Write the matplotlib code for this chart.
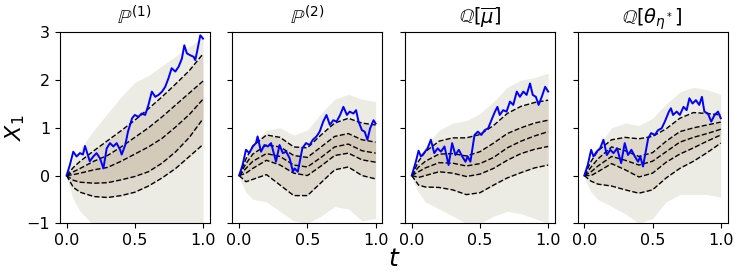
import numpy as np
import matplotlib.pyplot as plt

# grid for quantile lines and haze envelopes
t_q = [0, 0.05, 0.1, 0.2, 0.3, 0.4, 0.5, 0.6, 0.7, 0.8, 0.9, 1.0]

titles = [r'$\mathbb{P}^{(1)}$', r'$\mathbb{P}^{(2)}$',
          r'$\mathbb{Q}[\overline{\mu}]$', r'$\mathbb{Q}[\theta_{\eta^*}]$']

# quantile lines (top -> bottom) per panel
q_p1 = [[0, 0.17, 0.3, 0.52, 0.73, 0.94, 1.16, 1.4, 1.65, 1.92, 2.2, 2.55],
        [0, 0.08, 0.15, 0.3, 0.42, 0.6, 0.8, 1.0, 1.23, 1.48, 1.73, 1.98],
        [0, 0.02, 0.05, 0.12, 0.17, 0.3, 0.45, 0.6, 0.78, 1.02, 1.28, 1.6],
        [0, -0.1, -0.14, -0.16, -0.15, -0.09, -0.02, 0.08, 0.26, 0.5, 0.8, 1.19],
        [0, -0.25, -0.35, -0.44, -0.46, -0.42, -0.35, -0.22, -0.05, 0.15, 0.4, 0.65]]
q_p2 = [[0, 0.35, 0.62, 0.85, 0.8, 0.6, 0.58, 0.85, 1.1, 1.2, 1.1, 1.06],
        [0, 0.25, 0.45, 0.64, 0.6, 0.42, 0.38, 0.6, 0.82, 0.88, 0.75, 0.7],
        [0, 0.15, 0.3, 0.46, 0.4, 0.22, 0.18, 0.38, 0.6, 0.66, 0.52, 0.47],
        [0, 0.05, 0.15, 0.32, 0.22, 0.05, 0.0, 0.2, 0.42, 0.47, 0.33, 0.28],
        [0, -0.13, -0.08, 0.02, -0.2, -0.42, -0.42, -0.15, 0.12, 0.18, 0.0, -0.07]]
q_q1 = [[0, 0.3, 0.5, 0.72, 0.79, 0.79, 0.86, 1.05, 1.3, 1.45, 1.53, 1.58],
        [0, 0.18, 0.3, 0.45, 0.46, 0.41, 0.5, 0.68, 0.88, 1.0, 1.1, 1.16],
        [0, 0.08, 0.16, 0.27, 0.26, 0.2, 0.25, 0.38, 0.58, 0.72, 0.83, 0.92],
        [0, -0.04, 0.0, 0.08, 0.05, -0.02, 0.03, 0.15, 0.32, 0.46, 0.55, 0.61],
        [0, -0.2, -0.24, -0.25, -0.3, -0.4, -0.36, -0.2, -0.05, 0.06, 0.16, 0.22]]
q_q2 = [[0, 0.3, 0.52, 0.75, 0.8, 0.77, 0.82, 0.98, 1.2, 1.32, 1.3, 1.27],
        [0, 0.18, 0.35, 0.6, 0.52, 0.4, 0.48, 0.72, 0.92, 1.0, 1.06, 1.12],
        [0, 0.08, 0.2, 0.4, 0.32, 0.22, 0.3, 0.5, 0.7, 0.8, 0.88, 0.97],
        [0, 0.0, 0.08, 0.25, 0.12, -0.03, 0.05, 0.28, 0.45, 0.58, 0.72, 0.85],
        [0, -0.12, -0.18, -0.22, -0.3, -0.37, -0.3, -0.05, 0.15, 0.3, 0.48, 0.68]]

# envelopes of the sample cloud
hi_env = [[0.05, 0.35, 0.55, 0.95, 1.3, 1.65, 1.95, 2.1, 2.3, 2.5, 2.7, 2.9],
          [0.05, 0.4, 0.65, 0.95, 1.0, 0.85, 0.95, 1.3, 1.6, 1.7, 1.6, 1.55],
          [0.05, 0.4, 0.6, 0.95, 1.1, 1.15, 1.3, 1.55, 1.85, 2.0, 2.05, 2.15],
          [0.05, 0.4, 0.6, 1.0, 1.1, 1.05, 1.2, 1.5, 1.75, 1.85, 1.8, 1.7]]
lo_env = [[-0.05, -0.5, -0.75, -1.05, -1.05, -1.05, -1.05, -1.05, -1.05, -1.05, -1.05, -1.05],
          [-0.05, -0.35, -0.5, -0.55, -0.75, -0.95, -1.0, -0.85, -0.65, -0.7, -0.95, -0.9],
          [-0.05, -0.35, -0.55, -0.7, -0.85, -1.0, -1.0, -0.85, -0.75, -0.8, -0.9, -1.0],
          [-0.05, -0.35, -0.5, -0.65, -0.8, -1.0, -0.9, -0.55, -0.4, -0.4, -0.4, -0.45]]

# highlighted path per panel
t_b1 = [0, 0.024, 0.049, 0.073, 0.098, 0.12, 0.135, 0.17, 0.196, 0.22, 0.245, 0.27,
        0.294, 0.318, 0.343, 0.367, 0.392, 0.404, 0.43, 0.45, 0.48, 0.50, 0.527, 0.55,
        0.576, 0.60, 0.625, 0.65, 0.674, 0.70, 0.723, 0.747, 0.77, 0.797, 0.821, 0.845,
        0.863, 0.882, 0.907, 0.931, 0.943, 0.956, 0.98, 1.0]
v_b1 = [0, 0.22, 0.50, 0.40, 0.47, 0.44, 0.62, 0.30, 0.40, 0.47, 0.36, 0.15,
        0.57, 0.68, 0.61, 0.68, 0.54, 0.44, 0.64, 0.92, 1.20, 1.27, 1.23, 1.30,
        1.27, 1.48, 1.76, 1.65, 1.69, 1.76, 1.86, 2.04, 2.25, 2.18, 2.28, 2.45,
        2.73, 2.56, 2.52, 2.49, 2.42, 2.59, 2.94, 2.87]
t_b2 = [0, 0.025, 0.05, 0.074, 0.10, 0.123, 0.135, 0.16, 0.185, 0.21, 0.234, 0.27,
        0.296, 0.32, 0.345, 0.37, 0.394, 0.406, 0.43, 0.463, 0.49, 0.517, 0.54, 0.567,
        0.59, 0.616, 0.64, 0.665, 0.69, 0.714, 0.74, 0.764, 0.79, 0.81, 0.837, 0.857,
        0.875, 0.9, 0.92, 0.94, 0.96, 0.985, 1.0]
v_b2 = [0, 0.22, 0.54, 0.47, 0.61, 0.68, 0.82, 0.50, 0.64, 0.61, 0.68, 0.29,
        0.64, 0.47, 0.50, 0.36, 0.08, 0.15, 0.08, 0.57, 0.68, 0.64, 0.75, 0.82,
        0.92, 1.13, 1.27, 1.06, 1.16, 1.13, 1.27, 1.44, 1.27, 1.34, 1.30, 1.37,
        1.13, 0.95, 0.92, 0.75, 0.99, 1.16, 1.09]
t_b3 = [0, 0.03, 0.05, 0.067, 0.09, 0.116, 0.14, 0.165, 0.19, 0.214, 0.24, 0.27,
        0.296, 0.32, 0.345, 0.37, 0.394, 0.41, 0.43, 0.46, 0.485, 0.51, 0.534, 0.56,
        0.584, 0.61, 0.628, 0.645, 0.67, 0.695, 0.72, 0.744, 0.77, 0.793, 0.818, 0.842,
        0.867, 0.887, 0.91, 0.93, 0.953, 0.978, 1.0]
v_b3 = [0, 0.29, 0.52, 0.40, 0.47, 0.57, 0.75, 0.47, 0.57, 0.50, 0.61, 0.22,
        0.68, 0.43, 0.54, 0.40, 0.29, 0.40, 0.29, 0.85, 0.92, 0.85, 0.95, 0.99,
        1.16, 1.34, 1.44, 1.27, 1.37, 1.34, 1.55, 1.48, 1.76, 1.65, 1.76, 1.69,
        1.93, 1.69, 1.65, 1.48, 1.65, 1.86, 1.76]
t_b4 = [0, 0.025, 0.05, 0.067, 0.09, 0.116, 0.14, 0.165, 0.19, 0.214, 0.24, 0.27,
        0.296, 0.32, 0.345, 0.37, 0.394, 0.41, 0.43, 0.468, 0.49, 0.517, 0.54, 0.567,
        0.59, 0.62, 0.635, 0.65, 0.677, 0.70, 0.727, 0.75, 0.77, 0.793, 0.818, 0.842,
        0.862, 0.88, 0.906, 0.93, 0.955, 0.98, 1.0]
v_b4 = [0, 0.22, 0.54, 0.40, 0.50, 0.57, 0.75, 0.43, 0.54, 0.47, 0.57, 0.26,
        0.68, 0.43, 0.54, 0.40, 0.29, 0.40, 0.19, 0.78, 0.89, 0.85, 0.95, 0.99,
        1.13, 1.34, 1.41, 1.27, 1.34, 1.27, 1.44, 1.37, 1.62, 1.51, 1.58, 1.48,
        1.65, 1.34, 1.30, 1.13, 1.27, 1.34, 1.20]

quants = [q_p1, q_p2, q_q1, q_q2]
paths = [(t_b1, v_b1), (t_b2, v_b2), (t_b3, v_b3), (t_b4, v_b4)]

plt.rcParams['font.family'] = 'DejaVu Sans'
fig, axes = plt.subplots(1, 4, figsize=(7.47, 2.77), dpi=100, sharey=True)
plt.subplots_adjust(left=0.080, right=0.974, bottom=0.194, top=0.883, wspace=0.15)

for i, ax in enumerate(axes):
    q = quants[i]
    # sample cloud, faded towards its edges
    ax.fill_between(t_q, lo_env[i], hi_env[i], color='#d6d3c4', alpha=0.45, lw=0)
    ax.fill_between(t_q, q[4], q[0], color='#c4b7a0', alpha=0.35, lw=0)
    ax.fill_between(t_q, q[3], q[1], color='#b3a386', alpha=0.25, lw=0)
    for line in q:
        ax.plot(t_q, line, color='black', linestyle='--', linewidth=1.0)
    ax.plot(paths[i][0], paths[i][1], color='blue', linewidth=1.4)
    ax.set_title(titles[i], fontsize=14)
    ax.set_xlim(-0.05, 1.05)
    ax.set_xticks([0.0, 0.5, 1.0])
    ax.tick_params(labelsize=11.5)

axes[0].set_ylim(-1, 3)
axes[0].set_yticks([-1, 0, 1, 2, 3])
axes[0].set_ylabel('$X_1$', fontsize=16)
axes[0].yaxis.set_label_coords(-0.215, 0.5)
fig.text(0.528, 0.04, '$t$', fontsize=18, ha='center')

plt.savefig('out.png', dpi=100)
